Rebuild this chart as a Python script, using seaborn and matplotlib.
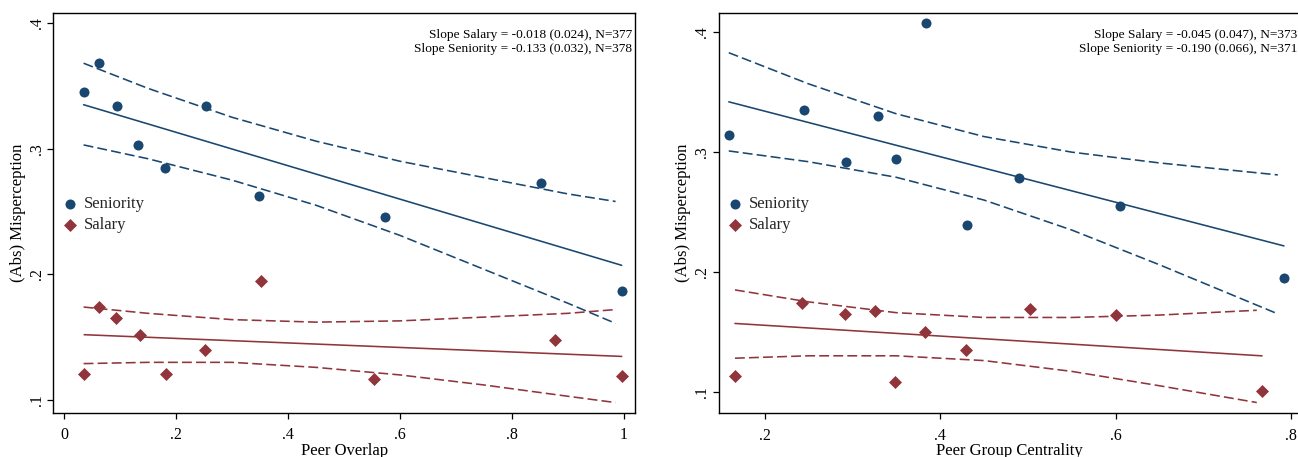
import numpy as np
import pandas as pd
import seaborn as sns
import matplotlib
matplotlib.use("Agg")
import matplotlib.pyplot as plt

# ---------------------------------------------------------------- data
# Panel 1: binned means against peer overlap
overlap_sen_x = [0.035, 0.062, 0.094, 0.133, 0.181, 0.253, 0.348, 0.574, 0.851, 0.996]
overlap_sen_y = [0.345, 0.368, 0.334, 0.303, 0.285, 0.334, 0.262, 0.246, 0.273, 0.187]
overlap_sal_x = [0.036, 0.062, 0.092, 0.135, 0.183, 0.251, 0.352, 0.553, 0.877, 0.996]
overlap_sal_y = [0.121, 0.174, 0.165, 0.152, 0.121, 0.140, 0.195, 0.117, 0.148, 0.119]

# linear fits: x range, value at the start of the range, slope (SE), N
overlap_sen_fit_x = [0.035, 0.996]
overlap_sen_fit_y0 = 0.335
overlap_sal_fit_x = [0.036, 0.996]
overlap_sal_fit_y0 = 0.152
overlap_slope_sal = [-0.018, 0.024, 377]
overlap_slope_sen = [-0.133, 0.032, 378]

# 95% confidence bands of the fits
overlap_ci_x = [0.035, 0.15, 0.30, 0.45, 0.60, 0.75, 0.90, 0.985]
overlap_sen_hi = [0.368, 0.348, 0.325, 0.306, 0.290, 0.277, 0.264, 0.258]
overlap_sen_lo = [0.303, 0.292, 0.275, 0.255, 0.231, 0.204, 0.177, 0.161]
overlap_sal_hi = [0.174, 0.169, 0.164, 0.162, 0.163, 0.166, 0.169, 0.172]
overlap_sal_lo = [0.129, 0.130, 0.130, 0.126, 0.120, 0.112, 0.103, 0.098]

# Panel 2: binned means against peer group centrality
central_sen_x = [0.159, 0.245, 0.293, 0.329, 0.350, 0.384, 0.431, 0.490, 0.605, 0.792]
central_sen_y = [0.314, 0.335, 0.292, 0.330, 0.294, 0.408, 0.239, 0.278, 0.255, 0.195]
central_sal_x = [0.166, 0.243, 0.291, 0.326, 0.348, 0.383, 0.429, 0.503, 0.600, 0.767]
central_sal_y = [0.113, 0.174, 0.165, 0.167, 0.108, 0.150, 0.135, 0.169, 0.164, 0.101]

central_sen_fit_x = [0.159, 0.792]
central_sen_fit_y0 = 0.342
central_sal_fit_x = [0.166, 0.767]
central_sal_fit_y0 = 0.157
central_slope_sal = [-0.045, 0.047, 373]
central_slope_sen = [-0.190, 0.066, 371]

central_sen_ci_x = [0.159, 0.25, 0.35, 0.45, 0.55, 0.65, 0.785]
central_sen_hi = [0.383, 0.357, 0.332, 0.313, 0.300, 0.291, 0.281]
central_sen_lo = [0.301, 0.292, 0.279, 0.260, 0.235, 0.206, 0.165]
central_sal_ci_x = [0.166, 0.25, 0.35, 0.45, 0.55, 0.65, 0.761]
central_sal_hi = [0.185, 0.175, 0.166, 0.162, 0.162, 0.164, 0.168]
central_sal_lo = [0.128, 0.130, 0.130, 0.126, 0.117, 0.105, 0.091]

y_ticks = [0.1, 0.2, 0.3, 0.4]
y_ticklabels = [".1", ".2", ".3", ".4"]
overlap_ticks = [0, 0.2, 0.4, 0.6, 0.8, 1.0]
overlap_ticklabels = ["0", ".2", ".4", ".6", ".8", "1"]
central_ticks = [0.2, 0.4, 0.6, 0.8]
central_ticklabels = [".2", ".4", ".6", ".8"]

# ---------------------------------------------------------------- style
sns.set_theme(style="white")
plt.rcParams["font.family"] = ["Liberation Serif", "DejaVu Serif"]
plt.rcParams["axes.unicode_minus"] = False

NAVY = "#1a476f"
MAROON = "#90353b"
DASH = (0, (6.2, 2.6))
LW = 1.15

fig = plt.figure(figsize=(12.98, 4.57), dpi=100)
ax1 = fig.add_axes([0.04106, 0.09628, 0.44838, 0.87593])
ax2 = fig.add_axes([0.55370, 0.09562, 0.44785, 0.87659])


def fit_line(x_range, y0, slope):
    xs = np.array(x_range)
    return xs, y0 + slope * (xs - xs[0])


def draw_panel(ax, sen_x, sen_y, sal_x, sal_y,
               sen_fit, sal_fit, sen_ci, sal_ci,
               slope_sal, slope_sen,
               xlabel, xticks, xticklabels, xlim, ylim, legend_x):
    # confidence bands
    for cx, hi, lo, col in [(sen_ci[0], sen_ci[1], sen_ci[2], NAVY),
                            (sal_ci[0], sal_ci[1], sal_ci[2], MAROON)]:
        sns.lineplot(x=cx, y=hi, ax=ax, color=col, linewidth=LW,
                     linestyle=DASH, estimator=None, sort=False)
        sns.lineplot(x=cx, y=lo, ax=ax, color=col, linewidth=LW,
                     linestyle=DASH, estimator=None, sort=False)
    # fitted lines
    fx, fy = fit_line(sen_fit[0], sen_fit[1], slope_sen[0])
    sns.lineplot(x=fx, y=fy, ax=ax, color=NAVY, linewidth=LW,
                 estimator=None, sort=False)
    fx, fy = fit_line(sal_fit[0], sal_fit[1], slope_sal[0])
    sns.lineplot(x=fx, y=fy, ax=ax, color=MAROON, linewidth=LW,
                 estimator=None, sort=False)
    # binned means
    sns.scatterplot(x=sen_x, y=sen_y, ax=ax, color=NAVY, marker="o", s=52,
                    linewidth=0, label="Seniority", zorder=3)
    sns.scatterplot(x=sal_x, y=sal_y, ax=ax, color=MAROON, marker="D", s=44,
                    linewidth=0, label="Salary", zorder=3)

    ax.set_xlim(*xlim)
    ax.set_ylim(*ylim)
    ax.set_xticks(xticks)
    ax.set_xticklabels(xticklabels)
    ax.set_yticks(y_ticks)
    ax.set_yticklabels(y_ticklabels)

    ax.tick_params(axis="both", which="both", bottom=True, left=True,
                   direction="out", length=4.3, width=0.9, color="black",
                   labelsize=11.5, labelcolor="black")
    ax.tick_params(axis="x", pad=6)
    ax.tick_params(axis="y", pad=2, labelrotation=90)
    for lab in ax.get_yticklabels():
        lab.set_va("center")

    for sp in ax.spines.values():
        sp.set_visible(True)
        sp.set_color("black")
        sp.set_linewidth(1.0)

    ax.set_xlabel(xlabel, fontsize=12, color="black")
    ax.xaxis.set_label_coords(0.5, -0.074)
    ax.xaxis.label.set_va("top")
    ax.set_ylabel("(Abs) Misperception", fontsize=12, color="black")
    ax.yaxis.set_label_coords(-0.061, 0.5)
    ax.yaxis.label.set_va("center")

    ax.legend(loc="center left", bbox_to_anchor=(legend_x, 0.496),
              frameon=False, fontsize=12, handlelength=0.8,
              handletextpad=0.46, labelspacing=0.3, borderpad=0,
              borderaxespad=0)

    note_sal = f"Slope Salary = {slope_sal[0]:.3f} ({slope_sal[1]:.3f}), N={slope_sal[2]}"
    note_sen = f"Slope Seniority = {slope_sen[0]:.3f} ({slope_sen[1]:.3f}), N={slope_sen[2]}"
    ax.text(0.995, 0.944, note_sal, transform=ax.transAxes, ha="right",
            va="center", fontsize=9.6, color="black")
    ax.text(0.995, 0.909, note_sen, transform=ax.transAxes, ha="right",
            va="center", fontsize=9.6, color="black")


draw_panel(ax1, overlap_sen_x, overlap_sen_y, overlap_sal_x, overlap_sal_y,
           (overlap_sen_fit_x, overlap_sen_fit_y0),
           (overlap_sal_fit_x, overlap_sal_fit_y0),
           (overlap_ci_x, overlap_sen_hi, overlap_sen_lo),
           (overlap_ci_x, overlap_sal_hi, overlap_sal_lo),
           overlap_slope_sal, overlap_slope_sen,
           "Peer Overlap", overlap_ticks, overlap_ticklabels,
           (-0.0191, 1.0202), (0.0897, 0.4082), 0.0172)

draw_panel(ax2, central_sen_x, central_sen_y, central_sal_x, central_sal_y,
           (central_sen_fit_x, central_sen_fit_y0),
           (central_sal_fit_x, central_sal_fit_y0),
           (central_sen_ci_x, central_sen_hi, central_sen_lo),
           (central_sal_ci_x, central_sal_hi, central_sal_lo),
           central_slope_sal, central_slope_sen,
           "Peer Group Centrality", central_ticks, central_ticklabels,
           (0.1475, 0.8103), (0.0820, 0.4164), 0.0165)

fig.savefig("out.png", dpi=100, facecolor="white")
